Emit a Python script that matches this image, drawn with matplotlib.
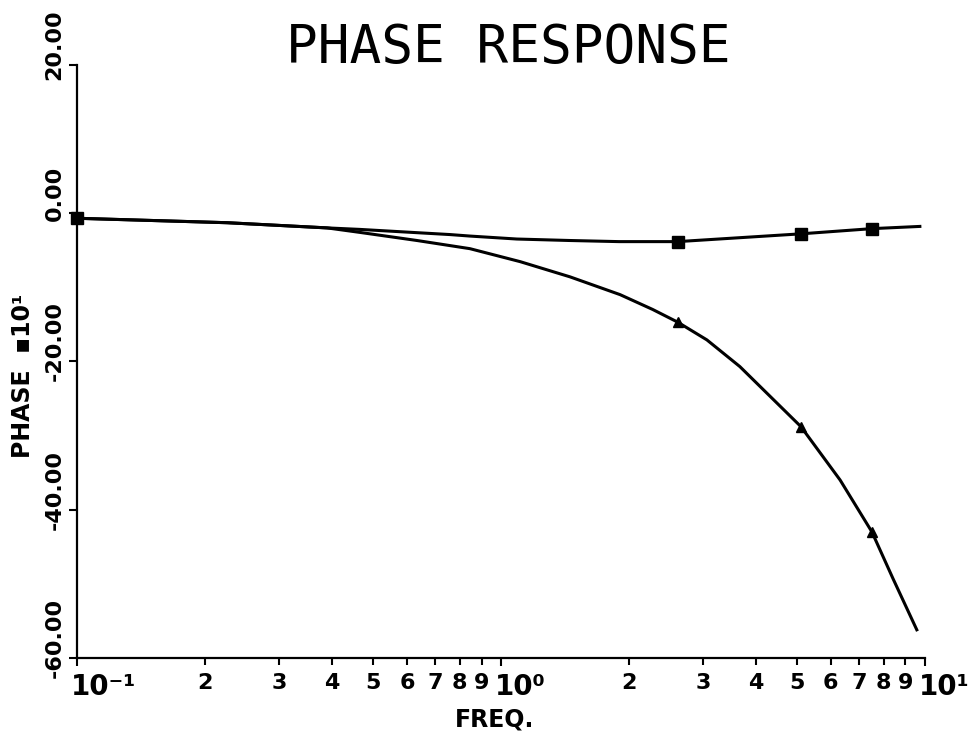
import matplotlib
matplotlib.use('Agg')
import matplotlib.pyplot as plt
from matplotlib.ticker import FixedLocator, FixedFormatter
from matplotlib.transforms import ScaledTranslation

# values (phase in units of 10 deg)
freq_upper = [0.1, 0.226, 0.389, 0.464, 0.759, 0.845, 1.09, 1.455, 1.9, 2.61, 5.10, 7.50, 9.73]
phase_upper = [-0.7, -1.3, -2.0, -2.2, -2.9, -3.1, -3.5, -3.7, -3.85, -3.85, -2.8, -2.1, -1.8]
marks_upper = [0, 9, 10, 11]

freq_lower = [0.1, 0.226, 0.389, 0.464, 0.634, 0.845, 1.11, 1.455, 1.91, 2.28, 2.61,
              3.06, 3.66, 5.10, 6.31, 7.50, 8.41, 9.57]
phase_lower = [-0.7, -1.3, -2.0, -2.6, -3.7, -4.8, -6.55, -8.6, -11.0, -13.0, -14.7,
               -17.1, -20.7, -28.8, -36.0, -43.0, -49.3, -56.2]
marks_lower = [0, 10, 13, 15]

y_ticks = [20, 0, -20, -40, -60]
y_ticklabels = ['20.00', '0.00', '-20.00', '-40.00', '-60.00']
x_major = [0.1, 1, 10]
x_major_labels = ['10\u207b\u00b9', '10\u2070', '10\u00b9']
x_minor = [0.2, 0.3, 0.4, 0.5, 0.6, 0.7, 0.8, 0.9, 2, 3, 4, 5, 6, 7, 8, 9]
x_minor_labels = ['2', '3', '4', '5', '6', '7', '8', '9'] * 2

fig = plt.figure(figsize=(9.78, 7.36), dpi=100)
ax = fig.add_axes([0.0787, 0.106, 0.867, 0.806])

ax.plot(freq_upper, phase_upper, color='black', lw=2.2, marker='s', ms=9,
        markevery=marks_upper, clip_on=False)
ax.plot(freq_lower, phase_lower, color='black', lw=2.2, marker='^', ms=7,
        markevery=marks_lower, clip_on=False)

ax.set_xscale('log')
ax.set_xlim(0.1, 10)
ax.set_ylim(-60, 20)

for s in ['top', 'right']:
    ax.spines[s].set_visible(False)
for s in ['left', 'bottom']:
    ax.spines[s].set_linewidth(1.6)

ax.yaxis.set_major_locator(FixedLocator(y_ticks))
ax.yaxis.set_major_formatter(FixedFormatter(y_ticklabels))
ax.xaxis.set_major_locator(FixedLocator(x_major))
ax.xaxis.set_major_formatter(FixedFormatter(x_major_labels))
ax.xaxis.set_minor_locator(FixedLocator(x_minor))
ax.xaxis.set_minor_formatter(FixedFormatter(x_minor_labels))

ax.tick_params(axis='y', direction='out', length=6, width=1.5, pad=3, labelsize=16)
ax.tick_params(axis='x', which='major', direction='out', length=6, width=1.5, pad=5, labelsize=20)
ax.tick_params(axis='x', which='minor', direction='out', length=5, width=1.5, pad=6, labelsize=16)

fig.canvas.draw()
shift_up = ScaledTranslation(0, 0.2, fig.dpi_scale_trans)
for lab in ax.get_yticklabels():
    lab.set_rotation(90)
    lab.set_va('center')
    lab.set_fontweight('bold')
    lab.set_transform(lab.get_transform() + shift_up)
shift_left = ScaledTranslation(-0.06, 0, fig.dpi_scale_trans)
for lab in ax.get_xticklabels():
    lab.set_ha('left')
    lab.set_fontweight('bold')
    lab.set_transform(lab.get_transform() + shift_left)
for lab in ax.get_xticklabels(minor=True):
    lab.set_fontweight('bold')

ax.set_xlabel('FREQ.', fontsize=17, fontweight='bold', va='center')
ax.xaxis.set_label_coords(0.493, -0.103)
ax.set_ylabel('PHASE  \u25aa10\u00b9', fontsize=17, fontweight='bold', va='center')
ax.yaxis.set_label_coords(-0.064, 0.476)

fig.text(508 / 978, 1 - 48 / 736, 'PHASE RESPONSE', fontsize=38,
         family='DejaVu Sans Mono', ha='center', va='center')

plt.savefig('out.png', dpi=100)
